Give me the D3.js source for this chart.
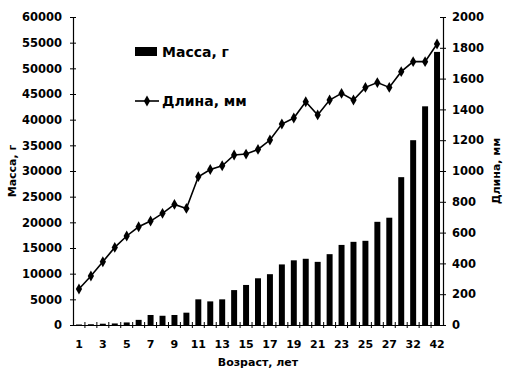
<!DOCTYPE html>
<html><head><meta charset="utf-8">
<script src="https://cdn.jsdelivr.net/npm/d3@7"></script>
<style>
body{margin:0;background:#fff;}
text{font-family:"DejaVu Sans",sans-serif;font-weight:bold;fill:#000;}
</style></head>
<body><svg id="c" width="505" height="371"></svg>
<script>
const categories = ["1","2","3","4","5","6","7","8","9","10","11","12","13","14","15","16","17","18","19","20","21","22","23","24","25","26","27","30","32","37","42"];
const massValues = [100,150,250,300,500,1000,1950,1800,1950,2400,5000,4600,5000,6800,7800,9100,9900,11800,12600,12900,12300,13800,15600,16200,16400,20100,20900,28800,36000,42600,53200];
const lengthValues = [234,318,411,504,578,638,675,725,783,757,963,1010,1034,1104,1110,1140,1201,1305,1344,1450,1364,1461,1504,1461,1543,1574,1543,1645,1710,1710,1825];
const massTicks = [0,5000,10000,15000,20000,25000,30000,35000,40000,45000,50000,55000,60000];
const lengthTicks = [0,200,400,600,800,1000,1200,1400,1600,1800,2000];
const seriesNames = ["Масса, г","Длина, мм"];
const xTitle = "Возраст, лет";

const L=73,R=443,T=17,B=325;
const svg=d3.select("#c");
const x=d3.scaleBand().domain(categories).range([L,R]).paddingInner(0.5).paddingOuter(0.25);
const yL=d3.scaleLinear().domain([0,60000]).range([B,T]);
const yR=d3.scaleLinear().domain([0,2000]).range([B,T]);
const fmt=d3.format("d");

// bars
svg.append("g").selectAll("rect").data(categories).join("rect")
  .attr("x",d=>x(d)).attr("width",x.bandwidth())
  .attr("y",(d,i)=>yL(massValues[i])).attr("height",(d,i)=>B-yL(massValues[i]))
  .attr("fill","#000");

// left axis
const gl=svg.append("g").attr("transform",`translate(${L},0)`)
  .call(d3.axisLeft(yL).tickValues(massTicks).tickFormat(fmt).tickSizeInner(3).tickSizeOuter(0).tickPadding(8));
gl.selectAll(".tick line").attr("x1",-3).attr("x2",3);
gl.selectAll("text").style("font-size","11.5px").style("font-family","DejaVu Sans").style("font-weight","bold");
gl.select(".domain").attr("stroke-width",1.2);

// right axis
const gr=svg.append("g").attr("transform",`translate(${R},0)`)
  .call(d3.axisRight(yR).tickValues(lengthTicks).tickFormat(fmt).tickSizeInner(3).tickSizeOuter(0).tickPadding(6));
gr.selectAll(".tick line").attr("x1",-3).attr("x2",3);
gr.selectAll("text").style("font-size","11.5px").style("font-family","DejaVu Sans").style("font-weight","bold");
gr.select(".domain").attr("stroke-width",1.2);

// bottom axis
const gb=svg.append("g").attr("transform",`translate(0,${B})`)
  .call(d3.axisBottom(x).tickValues(categories.filter((d,i)=>i%2===0)).tickSize(0).tickPadding(15));
gb.select(".domain").attr("stroke-width",1.2);
gb.selectAll("text").style("font-size","11px").style("font-family","DejaVu Sans").style("font-weight","bold");
const step=x.step();
const bounds=d3.range(categories.length+1).map(i=>L+i*step);
svg.append("g").selectAll("line").data(bounds.slice(1,-1)).join("line")
  .attr("x1",d=>d).attr("x2",d=>d).attr("y1",B-3).attr("y2",B+3).attr("stroke","#000");

// line
const line=d3.line().x((d,i)=>x(categories[i])+x.bandwidth()/2).y(d=>yR(d));
svg.append("path").datum(lengthValues).attr("d",line).attr("fill","none").attr("stroke","#000").attr("stroke-width",1.6);
const sym=d3.symbol().type(d3.symbolDiamond).size(34);
svg.append("g").selectAll("path").data(lengthValues).join("path")
  .attr("transform",(d,i)=>`translate(${x(categories[i])+x.bandwidth()/2},${yR(d)})`)
  .attr("d",sym).attr("fill","#000");

// titles
svg.append("text").attr("transform",`translate(16,${(T+B)/2}) rotate(-90)`).attr("text-anchor","middle")
  .style("font-size","11px").text("Масса, г");
svg.append("text").attr("transform",`translate(500,${(T+B)/2}) rotate(-90)`).attr("text-anchor","middle")
  .style("font-size","11px").text("Длина, мм");
svg.append("text").attr("x",(L+R)/2).attr("y",366).attr("text-anchor","middle")
  .style("font-size","11px").text(xTitle);

// legend
const lg=svg.append("g");
lg.append("rect").attr("x",135).attr("y",47).attr("width",22).attr("height",9).attr("fill","#000");
lg.append("text").attr("x",162).attr("y",57).style("font-size","14px").text(seriesNames[0]);
lg.append("line").attr("x1",135).attr("x2",159).attr("y1",101).attr("y2",101).attr("stroke","#000").attr("stroke-width",1.6);
lg.append("path").attr("transform","translate(147,101)").attr("d",sym).attr("fill","#000");
lg.append("text").attr("x",162).attr("y",106).style("font-size","14px").text(seriesNames[1]);
</script></body></html>
